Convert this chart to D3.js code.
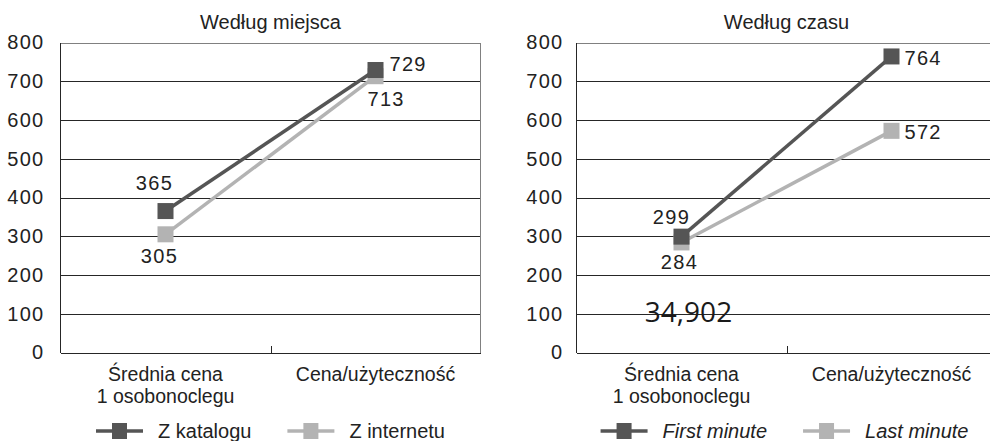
<!DOCTYPE html>
<html>
<head>
<meta charset="utf-8">
<script src="https://cdn.jsdelivr.net/npm/d3@7"></script>
<style>
  html, body { margin: 0; padding: 0; background: #fff; }
  svg { display: block; }
  text { font-family: "Liberation Sans", Arial, sans-serif; fill: #222; }
</style>
</head>
<body>
<svg id="chart" width="990" height="441"></svg>
<script>
// Price comparison data (PLN)
const categories = ["Średnia cena\n1 osobonoclegu", "Cena/użyteczność"];
const yTicks = [0, 100, 200, 300, 400, 500, 600, 700, 800];

const panelTitles = ["Według miejsca", "Według czasu"];

const seriesNamesPlace = ["Z katalogu", "Z internetu"];
const zKatalogu = [365, 729];
const zInternetu = [305, 713];

const seriesNamesTime = ["First minute", "Last minute"];
const firstMinute = [299, 764];
const lastMinute = [284, 572];

const footnoteValue = "34,902";

// ---- styling / layout ----
const DARK = "#555555";
const LIGHT = "#b3b3b3";
const plotTop = 42.5, plotBottom = 352.5, plotW = 420;

const panels = [
  {
    x0: 60.5,
    title: panelTitles[0],
    italic: false,
    series: [
      { name: seriesNamesPlace[0], values: zKatalogu, color: DARK,
        labels: [{ dx: -11, dy: -21, anchor: "middle" }, { dx: 14, dy: 1, anchor: "start" }] },
      { name: seriesNamesPlace[1], values: zInternetu, color: LIGHT,
        labels: [{ dx: -6, dy: 29, anchor: "middle" }, { dx: -8, dy: 30, anchor: "start" }] }
    ],
    tickPad: 16
  },
  {
    x0: 576.5,
    title: panelTitles[1],
    italic: true,
    series: [
      { name: seriesNamesTime[0], values: firstMinute, color: DARK,
        labels: [{ dx: -10, dy: -13, anchor: "middle" }, { dx: 13, dy: 9, anchor: "start" }] },
      { name: seriesNamesTime[1], values: lastMinute, color: LIGHT,
        labels: [{ dx: -2, dy: 27, anchor: "middle" }, { dx: 13, dy: 8, anchor: "start" }] }
    ],
    tickPad: 13
  }
];

const svg = d3.select("#chart");

panels.forEach((p, pi) => {
  const x = d3.scaleBand().domain(categories).range([p.x0, p.x0 + plotW]).padding(0);
  const y = d3.scaleLinear().domain([0, 800]).range([plotBottom, plotTop]);
  const g = svg.append("g");

  // horizontal gridlines + y labels
  const yAxis = d3.axisLeft(y).tickValues(yTicks).tickSize(-plotW).tickPadding(p.tickPad)
    .tickFormat(d3.format("d"));
  const ya = g.append("g").attr("transform", `translate(${p.x0},0)`).call(yAxis);
  ya.select(".domain").remove();
  ya.selectAll(".tick line")
    .attr("stroke", d => d === 800 ? "#808080" : "#262626")
    .attr("stroke-width", 1)
    .attr("shape-rendering", "crispEdges");
  ya.selectAll(".tick text")
    .attr("font-size", 20).attr("letter-spacing", 1.3)
    .attr("fill", "#222");

  // plot frame: left axis and right border
  g.append("line").attr("x1", p.x0).attr("x2", p.x0).attr("y1", plotTop).attr("y2", plotBottom)
    .attr("stroke", "#262626").attr("shape-rendering", "crispEdges");
  g.append("line").attr("x1", p.x0 + plotW).attr("x2", p.x0 + plotW).attr("y1", plotTop).attr("y2", plotBottom)
    .attr("stroke", "#808080").attr("shape-rendering", "crispEdges");

  // category separator tick
  g.append("line")
    .attr("x1", Math.round(x(categories[1])) + 0.5).attr("x2", Math.round(x(categories[1])) + 0.5)
    .attr("y1", plotBottom).attr("y2", plotBottom - 7)
    .attr("stroke", "#262626").attr("shape-rendering", "crispEdges");

  // category labels
  const xa = g.append("g").attr("transform", `translate(0,${plotBottom})`)
    .call(d3.axisBottom(x).tickSize(0).tickPadding(0));
  xa.select(".domain").remove();
  xa.selectAll(".tick text").each(function (d) {
    const t = d3.select(this);
    t.text(null).attr("y", 0).attr("dy", null).attr("font-size", 19.5).attr("fill", "#222");
    d.split("\n").forEach((line, i) => {
      t.append("tspan").attr("x", 0).attr("y", 28 + i * 22).text(line);
    });
  });

  // title
  g.append("text")
    .attr("x", p.x0 + plotW / 2).attr("y", 29)
    .attr("text-anchor", "middle").attr("font-size", 20)
    .text(p.title);

  // series: light drawn first so the dark one sits on top
  const cx = c => x(c) + x.bandwidth() / 2;
  const line = d3.line().x((d, i) => cx(categories[i])).y(d => y(d));
  [...p.series].reverse().forEach(s => {
    g.append("path").datum(s.values)
      .attr("d", line).attr("fill", "none")
      .attr("stroke", s.color).attr("stroke-width", 3.5);
    g.selectAll(null).data(s.values).enter().append("rect")
      .attr("x", (d, i) => cx(categories[i]) - 8)
      .attr("y", d => y(d) - 8)
      .attr("width", 16).attr("height", 16)
      .attr("fill", s.color);
  });
  p.series.forEach(s => {
    g.selectAll(null).data(s.values).enter().append("text")
      .attr("x", (d, i) => cx(categories[i]) + s.labels[i].dx)
      .attr("y", (d, i) => y(d) + s.labels[i].dy)
      .attr("text-anchor", (d, i) => s.labels[i].anchor)
      .attr("font-size", 20).attr("letter-spacing", 1.3)
      .text(d => d);
  });

  // legend, centred under the plot
  const lg = g.append("g").attr("transform", "translate(0,431)");
  const items = p.series.map(s => {
    const it = lg.append("g");
    it.append("line").attr("x1", 0).attr("x2", 47).attr("y1", 0).attr("y2", 0)
      .attr("stroke", s.color).attr("stroke-width", 3.5);
    it.append("rect").attr("x", 16).attr("y", -8).attr("width", 15).attr("height", 16)
      .attr("fill", s.color);
    const tx = it.append("text").attr("x", 62).attr("y", 7).attr("font-size", 20)
      .attr("font-style", p.italic ? "italic" : "normal").text(s.name);
    return { it, w: 62 + tx.node().getComputedTextLength() };
  });
  const gap = 36;
  const total = d3.sum(items, d => d.w) + gap * (items.length - 1);
  let cur = p.x0 + plotW / 2 - total / 2 - (pi === 1 ? 2 : 0);
  items.forEach(d => {
    d.it.attr("transform", `translate(${cur},0)`);
    cur += d.w + gap;
  });

  // footnote figure on the second panel
  if (pi === 1) {
    g.append("text")
      .attr("x", x(categories[0]) + x.bandwidth() / 2 + 7).attr("y", 322)
      .attr("text-anchor", "middle")
      .style("font-family", "'Open Sans', sans-serif").style("font-size", "28px")
      .style("fill", "#1a1a1a")
      .text(footnoteValue);
  }
});
</script>
</body>
</html>
